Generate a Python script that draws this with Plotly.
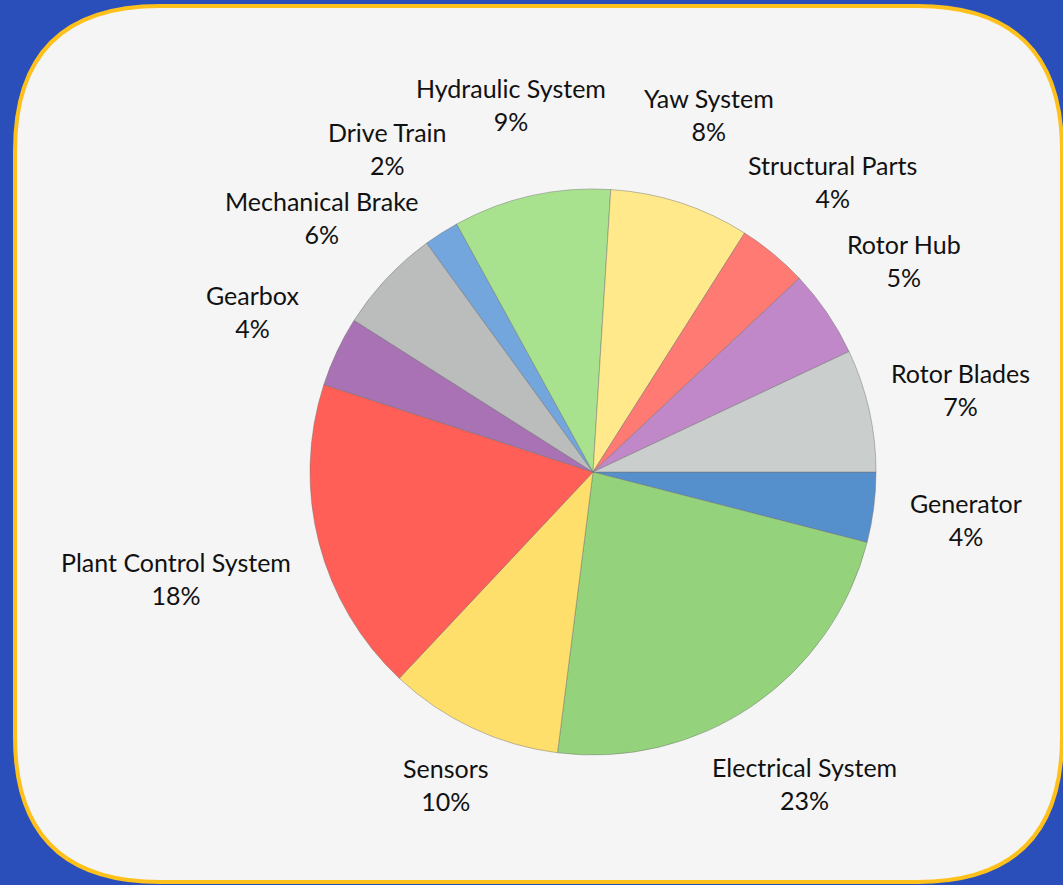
import math
import plotly.graph_objects as go

# Failure share by wind-turbine subsystem (percent)
components = [
    "Generator", "Electrical System", "Sensors", "Plant Control System",
    "Gearbox", "Mechanical Brake", "Drive Train", "Hydraulic System",
    "Yaw System", "Structural Parts", "Rotor Hub", "Rotor Blades",
]
shares = [4, 23, 10, 18, 4, 6, 2, 9, 8, 4, 5, 7]
slice_colors = [
    "#5590cc", "#94d37c", "#ffdf6b", "#ff5f57", "#a872b4", "#babdbb",
    "#72a6dc", "#a8e28f", "#ffe98a", "#ff7a73", "#c088c8", "#cacecd",
]

W, H = 1063, 885
CX, CY, R = 593, 472, 283  # pie centre and radius in pixels

# label distance from centre, as a multiple of the radius
label_dist = {name: 1.33 for name in components}
label_dist["Plant Control System"] = 1.52
label_dist["Sensors"] = 1.22
label_dist["Drive Train"] = 1.355
label_dist["Mechanical Brake"] = 1.315

fig = go.Figure()
fig.add_trace(go.Pie(
    labels=components,
    values=shares,
    sort=False,
    direction="clockwise",
    rotation=90,
    textinfo="none",
    hoverinfo="label+percent",
    marker=dict(colors=slice_colors, line=dict(color="rgba(110,110,110,0.45)", width=1)),
    domain=dict(x=[(CX - R) / W, (CX + R) / W], y=[1 - (CY + R) / H, 1 - (CY - R) / H]),
    showlegend=False,
))

# labels placed around the pie at each slice's mid-angle
total = sum(shares)
annotations = []
cum = 0
for name, v in zip(components, shares):
    mid = (cum + v / 2) / total * 2 * math.pi  # clockwise from 3 o'clock
    cum += v
    r = R * label_dist[name]
    px = CX + r * math.cos(mid)
    py = CY + r * math.sin(mid)
    annotations.append(dict(
        x=px / W, y=1 - py / H, xref="paper", yref="paper",
        text=f"{name}<br>{round(v / total * 100)}%",
        showarrow=False, xanchor="center", yanchor="middle",
        font=dict(family="Lato, sans-serif", size=25, color="#111111"),
    ))

# framed panel on a blue backdrop
rad = 145
x0, y0, x1, y1 = 15 / W, 1 - 6 / H, 1062 / W, 1 - 882 / H
rx, ry = rad / W, rad / H
panel = (
    f"M {x0 + rx},{y0} L {x1 - rx},{y0} Q {x1},{y0} {x1},{y0 - ry} "
    f"L {x1},{y1 + ry} Q {x1},{y1} {x1 - rx},{y1} "
    f"L {x0 + rx},{y1} Q {x0},{y1} {x0},{y1 + ry} "
    f"L {x0},{y0 - ry} Q {x0},{y0} {x0 + rx},{y0} Z"
)

fig.update_layout(
    width=W, height=H,
    margin=dict(l=0, r=0, t=0, b=0),
    paper_bgcolor="#2b4fba",
    plot_bgcolor="#2b4fba",
    shapes=[dict(type="path", path=panel, xref="paper", yref="paper",
                 fillcolor="#f5f5f5", line=dict(color="#fec11c", width=4), layer="below")],
    annotations=annotations,
)

fig.write_html("out.html")
